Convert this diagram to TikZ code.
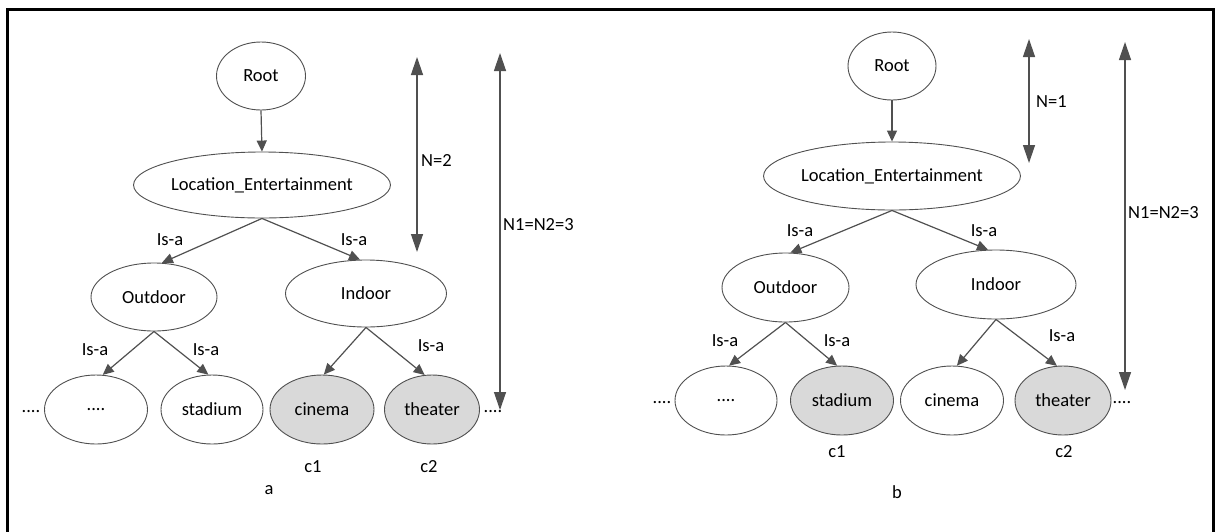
\documentclass[tikz,border=0pt]{standalone}
\usepackage{fontspec}
\setmainfont{Carlito}
\usetikzlibrary{shapes.geometric,arrows.meta}
\definecolor{edgegray}{HTML}{505050}
\definecolor{leafgray}{HTML}{D9D9D9}
\tikzset{
  concept/.style={ellipse,draw=edgegray,line width=0.9pt,inner sep=0pt,
    font=\fontsize{18.5}{22}\selectfont},
  hit/.style={concept,fill=leafgray},
  txt/.style={inner sep=0pt,font=\fontsize{18.5}{22}\selectfont},
  isa/.style={draw=edgegray,line width=1.2pt,-{Triangle[length=11pt,width=10pt]}},
  depth/.style={draw=edgegray,line width=1.3pt,{Triangle[length=18pt,width=12pt]}-{Triangle[length=18pt,width=12pt]}},
  frameline/.style={draw=black,line width=3pt}
}
\begin{document}
\begin{tikzpicture}[x=1pt,y=-1pt]
\useasboundingbox (0,0) rectangle (1215,531);
\fill[white] (0,0) rectangle (1215,531);
% outer frame (bottom edge lies below the page)
\draw[frameline] (7,560) -- (7,9) -- (1213,9) -- (1213,560);

% ---------------- tree a ----------------
\node[concept,minimum width=89pt,minimum height=68pt] (aroot) at (261,76) {Root};
\node[concept,minimum width=243pt,minimum height=66pt] (ale) at (262,185) {Location\_Entertainment};
\node[concept,minimum width=126pt,minimum height=68pt] (aout) at (154,297) {Outdoor};
\node[concept,minimum width=161pt,minimum height=67pt] (ain) at (366,293.5) {Indoor};
\node[concept,minimum width=103pt,minimum height=69pt] (adots) at (96,409.5) {....};
\node[concept,minimum width=102pt,minimum height=69pt] (astad) at (212,409.5) {stadium};
\node[hit,minimum width=104pt,minimum height=69pt] (acin) at (322,409.5) {cinema};
\node[hit,minimum width=95pt,minimum height=69pt] (athe) at (432,409.5) {theater};
\node[txt] (aleft) at (31,412) {....};
\node[txt] (aright) at (493,412) {....};

\draw[isa] (aroot.south) -- (ale.north);
\draw[isa] (ale.south) -- (aout.77);
\draw[isa] (ale.south) -- (ain.100);
\draw[isa] (aout.south) -- (adots.79);
\draw[isa] (aout.south) -- (astad.96);
\draw[isa] (ain.south) -- (acin.87);
\draw[isa] (ain.south) -- (athe.102);

\node[txt] (aisa1) at (170,240) {Is-a};
\node[txt] (aisa2) at (354,240) {Is-a};
\node[txt] (aisa3) at (95,350) {Is-a};
\node[txt] (aisa4) at (206,350) {Is-a};
\node[txt] (aisa5) at (431,346) {Is-a};
\node[txt] (ac1) at (313,467) {c1};
\node[txt] (ac2) at (429,467) {c2};
\node[txt] (acap) at (269,490) {a};

\coordinate (anT) at (417,57);
\coordinate (anB) at (417,252);
\draw[depth] (anT) -- (anB);
\node[txt,anchor=west] (anlab) at (421,160) {N=2};
\coordinate (amT) at (500,53);
\coordinate (amB) at (500,410);
\draw[depth] (amT) -- (amB);
\node[txt,anchor=west] (amlab) at (503,225) {N1=N2=3};

% ---------------- tree b ----------------
\node[concept,minimum width=88pt,minimum height=68pt] (broot) at (892,66) {Root};
\node[concept,minimum width=244pt,minimum height=68pt] (ble) at (892,176) {Location\_Entertainment};
\node[concept,minimum width=127pt,minimum height=69pt] (bout) at (785.5,287.5) {Outdoor};
\node[concept,minimum width=160pt,minimum height=69pt] (bin) at (996,284.5) {Indoor};
\node[concept,minimum width=102pt,minimum height=69pt] (bdots) at (726,400.5) {....};
\node[hit,minimum width=103pt,minimum height=69pt] (bstad) at (842,400.5) {stadium};
\node[concept,minimum width=103pt,minimum height=69pt] (bcin) at (952,400.5) {cinema};
\node[hit,minimum width=96pt,minimum height=69pt] (bthe) at (1063,400.5) {theater};
\node[txt] (bleft) at (662,403) {....};
\node[txt] (bright) at (1122,403) {....};

\draw[isa] (broot.south) -- (ble.north);
\draw[isa] (ble.south) -- (bout.82);
\draw[isa] (ble.south) -- (bin.103);
\draw[isa] (bout.south) -- (bdots.85);
\draw[isa] (bout.south) -- (bstad.98);
\draw[isa] (bin.south) -- (bcin.82);
\draw[isa] (bin.south) -- (bthe.100);

\node[txt] (bisa1) at (800,231) {Is-a};
\node[txt] (bisa2) at (984,231) {Is-a};
\node[txt] (bisa3) at (725,341) {Is-a};
\node[txt] (bisa4) at (837,341) {Is-a};
\node[txt] (bisa5) at (1062,336) {Is-a};
\node[txt] (bc1) at (837,452) {c1};
\node[txt] (bc2) at (1064,452) {c2};
\node[txt] (bcap) at (897,492) {b};

\coordinate (bnT) at (1029,39);
\coordinate (bnB) at (1029,163);
\draw[depth] (bnT) -- (bnB);
\node[txt,anchor=west] (bnlab) at (1036,102) {N=1};
\coordinate (bmT) at (1125,42);
\coordinate (bmB) at (1125,390);
\draw[depth] (bmT) -- (bmB);
\node[txt,anchor=west] (bmlab) at (1128,213) {N1=N2=3};
\end{tikzpicture}
\end{document}
